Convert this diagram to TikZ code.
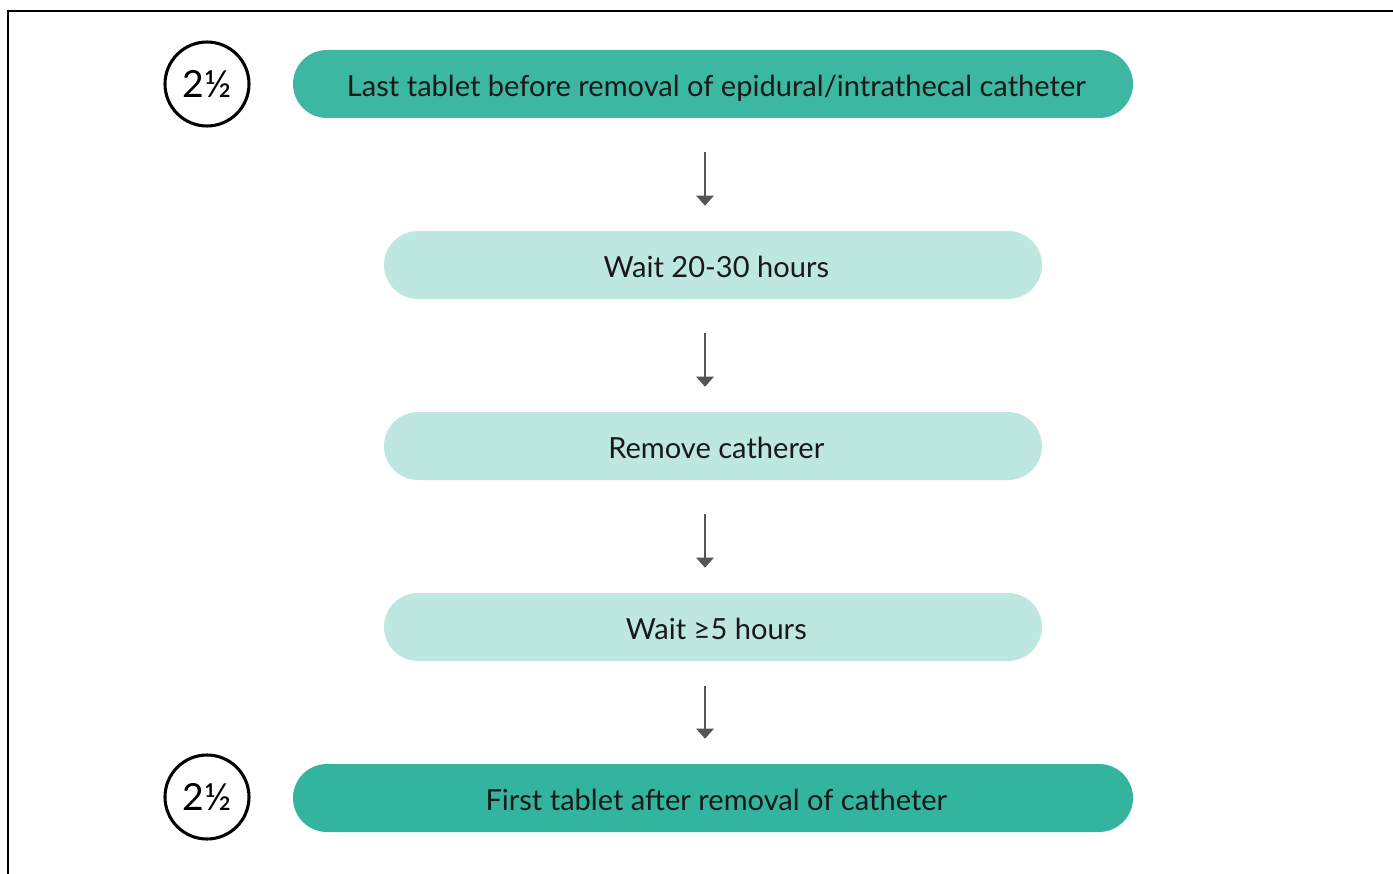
\documentclass[tikz,border=0pt]{standalone}
\usepackage{fontspec}
\setmainfont{Lato}
\usetikzlibrary{arrows.meta}

\definecolor{darkteal}{HTML}{3CB8A2}
\definecolor{deepteal}{HTML}{32B49F}
\definecolor{lightteal}{HTML}{BEE7E1}
\definecolor{arrowgray}{HTML}{555555}

\tikzset{
	pill/.style={rounded corners=25.5pt, minimum height=51pt, inner sep=0pt, text height=20pt, text depth=1.2pt, font=\fontsize{21.8}{24}\selectfont, text=black!90},
	darkpill/.style={pill, fill=darkteal, minimum width=630pt},
	lightpill/.style={pill, fill=lightteal, minimum width=493.5pt},
	dose/.style={circle, draw=black, line width=2.3pt, minimum size=63pt, inner sep=0pt, font=\fontsize{28}{30}\selectfont},
	flow/.style={draw=arrowgray, line width=1.1pt, -{Triangle[width=13pt, length=7.5pt]}}
}

\begin{document}
\begin{tikzpicture}[x=0.75pt, y=-0.75pt]
	\useasboundingbox (0,0) rectangle (1393,874);
	\draw[line width=1.1pt] (8,874) -- (8,11) -- (1393,11);

	\node[darkpill] (last) at (713,84) {\hspace*{5pt}Last tablet before removal of epidural/intrathecal catheter};
	\node[lightpill] (wait1) at (713,265) {\hspace*{5pt}Wait 20-30 hours};
	\node[lightpill] (remove) at (713,446) {\hspace*{5pt}Remove catherer};
	\node[lightpill] (wait2) at (713,627) {\hspace*{5pt}Wait ≥5 hours};
	\node[darkpill, fill=deepteal] (first) at (713,798) {\hspace*{5pt}First tablet after removal of catheter};

	\node[dose] (dosetop) at (207,84) {2½};
	\node[dose] (dosebot) at (207,797) {2½};

	% arrows between the steps
	\draw[flow, shorten <=25.5pt, shorten >=18.75pt] ([xshift=-6pt]last.south) -- ([xshift=-6pt]wait1.north);
	\draw[flow, shorten <=25.5pt, shorten >=18.75pt] ([xshift=-6pt]wait1.south) -- ([xshift=-6pt]remove.north);
	\draw[flow, shorten <=25.5pt, shorten >=18.75pt] ([xshift=-6pt]remove.south) -- ([xshift=-6pt]wait2.north);
	\draw[flow, shorten <=18.75pt, shorten >=18.75pt] ([xshift=-6pt]wait2.south) -- ([xshift=-6pt]first.north);
\end{tikzpicture}
\end{document}
